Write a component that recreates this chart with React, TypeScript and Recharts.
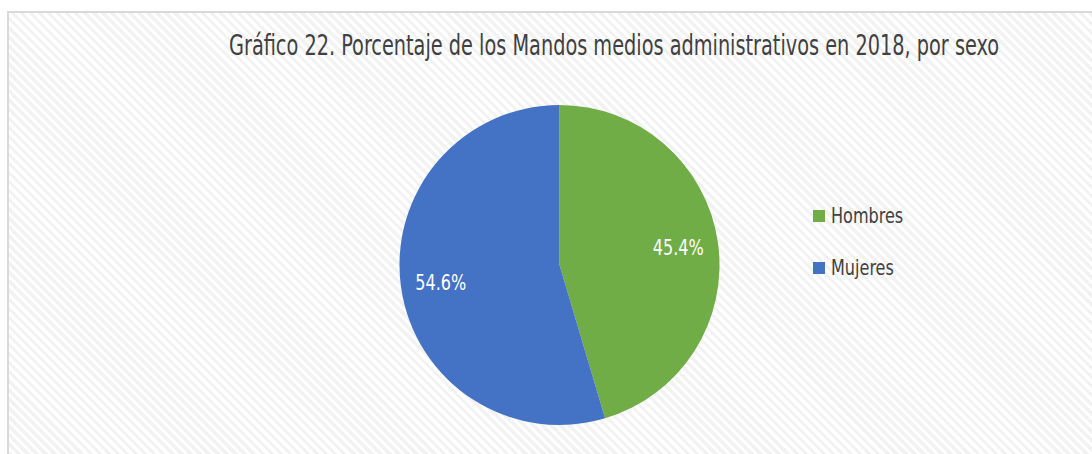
import React from 'react';
import { PieChart, Pie, Cell, Legend } from 'recharts';

const categories = ['Hombres', 'Mujeres'];
const values = [45.4, 54.6];
const colors = ['#70AD47', '#4472C4'];
const title = 'Gráfico 22. Porcentaje de los Mandos medios administrativos en 2018, por sexo';

const data = categories.map((name, i) => ({ name, value: values[i] }));

const FONT = "'Liberation Sans Narrow', 'DejaVu Sans Condensed', 'Roboto Condensed', sans-serif";
const RAD = Math.PI / 180;

const renderLabel = (props: any) => {
  const { cx, cy, midAngle, value } = props;
  const r = 120;
  const x = cx + r * Math.cos(-midAngle * RAD);
  const y = cy + r * Math.sin(-midAngle * RAD);
  return (
    <text
      x={x}
      y={y}
      fill="#ffffff"
      textAnchor="middle"
      dominantBaseline="central"
      fontFamily={FONT}
      fontSize={22}
      textLength={51}
      lengthAdjust="spacingAndGlyphs"
    >
      {value.toFixed(1)}%
    </text>
  );
};

const renderLegend = (props: any) => {
  const { payload } = props;
  return (
    <div style={{ fontFamily: FONT }}>
      {payload.map((entry: any, i: number) => (
        <div
          key={i}
          style={{ display: 'flex', alignItems: 'center', height: 22, marginBottom: i === 0 ? 30 : 0 }}
        >
          <span
            style={{ display: 'inline-block', width: 12, height: 12, background: entry.color, marginRight: 6 }}
          />
          <span
            style={{
              display: 'inline-block',
              fontSize: 21,
              color: '#404040',
              lineHeight: '22px',
              transform: 'scaleX(0.85)',
              transformOrigin: 'left center',
              whiteSpace: 'nowrap',
            }}
          >
            {entry.value}
          </span>
        </div>
      ))}
    </div>
  );
};

export default function App() {
  return (
    <div style={{ position: 'absolute', left: 0, top: 0, width: 1092, height: 454, overflow: 'hidden', background: '#fff' }}>
      <div
        style={{
          position: 'absolute',
          left: 7,
          top: 11,
          width: 1100,
          height: 460,
          border: '2px solid #d9d9d9',
          boxSizing: 'border-box',
          background:
            'repeating-linear-gradient(45deg, #ffffff 0px, #ffffff 3.2px, #f2f2f2 3.2px, #f2f2f2 6.4px)',
        }}
      />
      <svg style={{ position: 'absolute', left: 0, top: 0 }} width={1092} height={454}>
        <text
          x={229}
          y={55}
          fontFamily={FONT}
          fontSize={28}
          fill="#404040"
          textLength={770}
          lengthAdjust="spacingAndGlyphs"
        >
          {title}
        </text>
      </svg>
      <div style={{ position: 'absolute', left: 0, top: 0 }}>
        <PieChart width={1092} height={454} margin={{ top: 0, right: 0, bottom: 0, left: 0 }}>
          <Pie
            data={data}
            dataKey="value"
            nameKey="name"
            cx={559.5}
            cy={265}
            outerRadius={160}
            startAngle={90}
            endAngle={-270}
            stroke="none"
            label={renderLabel}
            labelLine={false}
            isAnimationActive={false}
          >
            {data.map((d, i) => (
              <Cell key={d.name} fill={colors[i]} />
            ))}
          </Pie>
          <Legend
            layout="vertical"
            content={renderLegend}
            wrapperStyle={{ left: 813, top: 205, width: 150 }}
          />
        </PieChart>
      </div>
    </div>
  );
}
